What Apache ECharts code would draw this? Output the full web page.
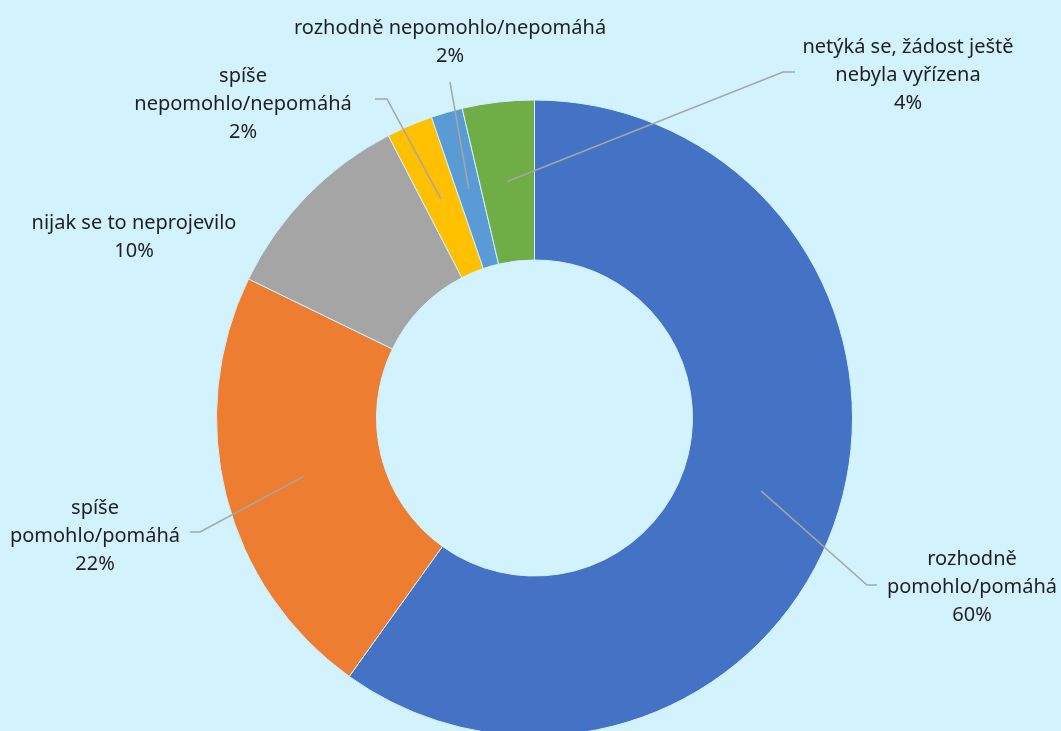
<!DOCTYPE html>
<html>
<head>
<meta charset="utf-8">
<script src="https://cdn.jsdelivr.net/npm/echarts@6/dist/echarts.min.js"></script>
<style>
    html, body {
        margin: 0;
        padding: 0;
        background: #d2f2fd;
    }

    #chart {
        width: 1061px;
        height: 731px;
    }
</style>
</head>
<body>
<div id="chart"></div>
<script>
// answer categories (clockwise from the top)
const categories = [
    'rozhodně pomohlo/pomáhá',
    'spíše pomohlo/pomáhá',
    'nijak se to neprojevilo',
    'spíše nepomohlo/nepomáhá',
    'rozhodně nepomohlo/nepomáhá',
    'netýká se, žádost ještě nebyla vyřízena'
]
// label text with the line breaks used in the picture
const labelTexts = [
    'rozhodně\npomohlo/pomáhá',
    'spíše\npomohlo/pomáhá',
    'nijak se to neprojevilo',
    'spíše\nnepomohlo/nepomáhá',
    'rozhodně nepomohlo/nepomáhá',
    'netýká se, žádost ještě\nnebyla vyřízena'
]
// share of answers, %
const shares = [59.9, 22.3, 10.2, 2.35, 1.6, 3.65]

const colors = ['#4472c4', '#ed7d31', '#a5a5a5', '#ffc000', '#5b9bd5', '#70ad47']

const CX = 534.5
const CY = 418
const R_IN = 158
const R_OUT = 318

// where each label sits and where its leader line bends
const labelSpots = [
    { x: 972, y: 587, bend: [[867, 585], [877, 585]] },
    { x: 95, y: 536, bend: [[200, 532], [190, 532]] },
    { x: 134, y: 237, bend: null },
    { x: 243, y: 104, bend: [[387, 99], [375, 99]] },
    { x: 450, y: 42, bend: [[450, 82]] },
    { x: 908, y: 75, bend: [[783, 72], [795, 72]] }
]

const total = shares.reduce((a, b) => a + b, 0)

function anchorPoint(i) {
    let before = 0
    for (let k = 0; k < i; k++) before += shares[k]
    const theta = (before + shares[i] / 2) / total * Math.PI * 2
    const r = (R_IN + R_OUT) / 2
    return [CX + r * Math.sin(theta), CY - r * Math.cos(theta)]
}

const chart = echarts.init(document.getElementById('chart'))

const pieBase = {
    type: 'pie',
    center: [CX, CY],
    radius: [R_IN, R_OUT],
    startAngle: 90,
    clockwise: true,
    avoidLabelOverlap: false,
    silent: true
}

chart.setOption({
    backgroundColor: '#d2f2fd',
    animation: false,
    series: [
        // the coloured ring
        Object.assign({}, pieBase, {
            z: 2,
            itemStyle: {
                borderColor: '#d2f2fd',
                borderWidth: 1
            },
            label: { show: false },
            labelLine: { show: false },
            data: categories.map((name, i) => ({
                name,
                value: shares[i],
                itemStyle: { color: colors[i] }
            }))
        }),
        // same ring, transparent, only for labels so leader lines sit on top
        Object.assign({}, pieBase, {
            z: 5,
            itemStyle: { color: 'rgba(0,0,0,0)' },
            label: {
                show: true,
                position: 'outside',
                fontFamily: 'Noto Sans',
                fontSize: 20,
                lineHeight: 28,
                color: '#1f1f1f',
                formatter(params) {
                    return labelTexts[params.dataIndex] + '\n' + Math.round(params.percent) + '%'
                }
            },
            labelLine: {
                show: true,
                smooth: false,
                lineStyle: {
                    color: '#a6a6a6',
                    width: 1.5
                }
            },
            labelLayout(params) {
                const i = params.dataIndex
                const spot = labelSpots[i]
                const out = {
                    x: spot.x,
                    y: spot.y,
                    align: 'center',
                    verticalAlign: 'middle'
                }
                if (spot.bend) {
                    out.labelLinePoints = [anchorPoint(i)].concat(spot.bend)
                }
                return out
            },
            data: categories.map((name, i) => ({
                name,
                value: shares[i],
                labelLine: { show: labelSpots[i].bend !== null }
            }))
        })
    ]
})
</script>
</body>
</html>
